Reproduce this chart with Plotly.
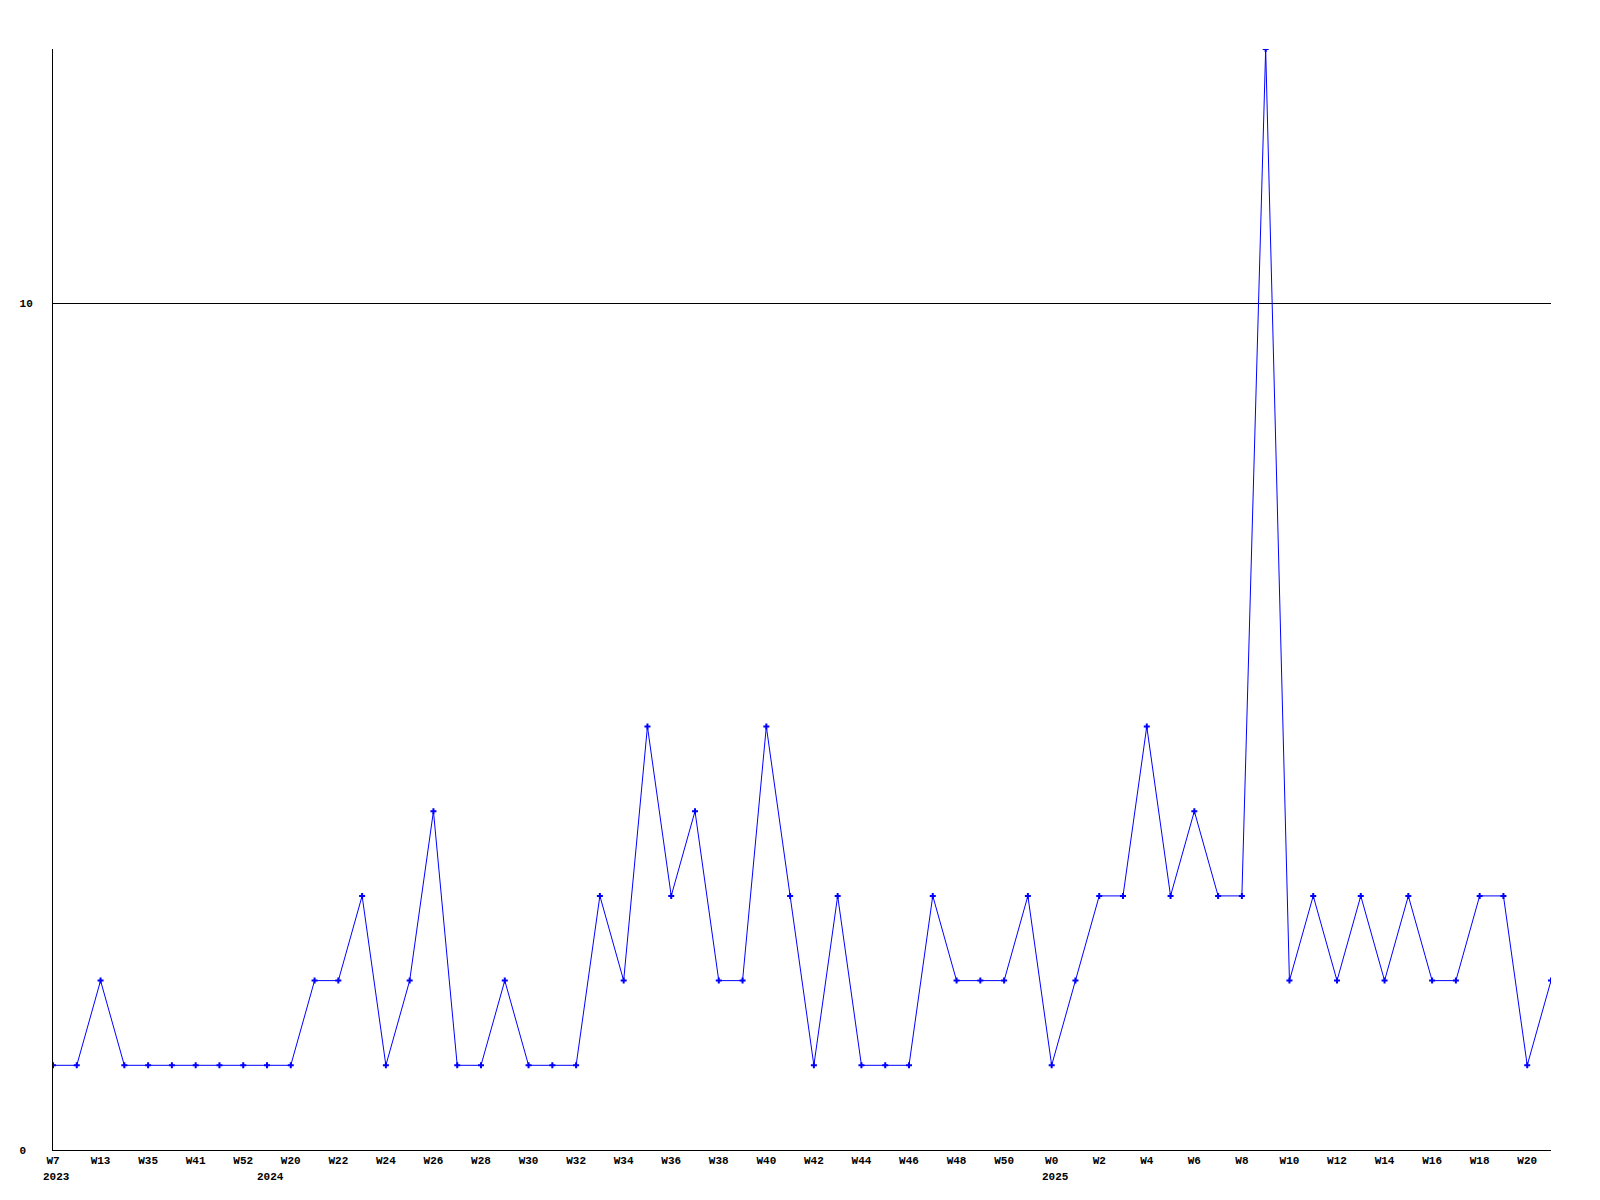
import plotly.graph_objects as go

# Week labels (odd entries are not shown on the axis; guessed)
weeks = ["W7", "W9", "W13", "W20", "W35", "W38", "W41", "W47", "W52", "W3",
         "W20", "W21", "W22", "W23", "W24", "W25", "W26", "W27", "W28", "W29",
         "W30", "W31", "W32", "W33", "W34", "W35", "W36", "W37", "W38", "W39",
         "W40", "W41", "W42", "W43", "W44", "W45", "W46", "W47", "W48", "W49",
         "W50", "W51", "W0", "W1", "W2", "W3", "W4", "W5", "W6", "W7",
         "W8", "W9", "W10", "W11", "W12", "W13", "W14", "W15", "W16", "W17",
         "W18", "W19", "W20", "W21"]
values = [1, 1, 2, 1, 1, 1, 1, 1, 1, 1,
          1, 2, 2, 3, 1, 2, 4, 1, 1, 2,
          1, 1, 1, 3, 2, 5, 3, 4, 2, 2,
          5, 3, 1, 3, 1, 1, 1, 3, 2, 2,
          2, 3, 1, 2, 3, 3, 5, 3, 4, 3,
          3, 13, 2, 3, 2, 3, 2, 3, 2, 2,
          3, 3, 1, 2]
year_labels = ["2023", "2024", "2025"]
year_index = [0, 9, 42]   # first point of each year

x = list(range(len(values)))
tickvals = x[::2]
ticktext = weeks[::2]

font = dict(family="Liberation Mono, Courier New, monospace", size=11, color="black")

fig = go.Figure()
fig.add_trace(go.Scatter(
    x=x, y=values, mode="lines+markers",
    line=dict(color="#0000ff", width=1),
    marker=dict(symbol="cross", size=5, color="#0000ff"),
    hoverinfo="x+y",
))

annotations = []
for lbl, idx in zip(year_labels, year_index):
    annotations.append(dict(
        x=idx, xref="x", y=0, yref="paper", text="<b>%s</b>" % lbl,
        showarrow=False, xanchor="left", yanchor="middle",
        xshift=-12, yshift=-27, font=font,
    ))

fig.update_layout(
    width=1584, height=1184,
    margin=dict(l=42, r=41, t=41, b=42),
    plot_bgcolor="white", paper_bgcolor="white",
    showlegend=False,
    font=font,
    annotations=annotations,
    xaxis=dict(
        range=[0, len(values) - 1],
        tickvals=tickvals,
        ticktext=["<b>%s</b>" % t for t in ticktext],
        tickangle=0,
        showgrid=False, zeroline=False,
        showline=True, linecolor="black", linewidth=1,
        ticks="", tickfont=font,
    ),
    yaxis=dict(
        range=[0, 13],
        tickvals=[0, 10],
        ticktext=["<b>0\u00a0</b>", "<b>10</b>"],
        showgrid=True, gridcolor="black", gridwidth=1,
        zeroline=False,
        showline=True, linecolor="black", linewidth=1,
        ticks="", tickfont=font, ticklabelstandoff=17,
    ),
)

fig.write_html("out.html")
